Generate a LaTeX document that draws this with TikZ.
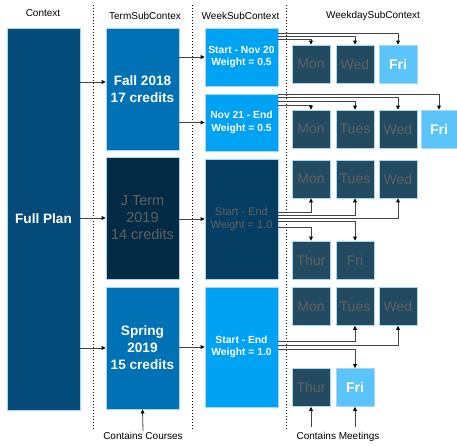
\documentclass[tikz,border=0pt]{standalone}
\usepackage{fontspec}
\setmainfont{Liberation Sans}
\usetikzlibrary{arrows.meta}
\definecolor{cplan}{HTML}{044B7A}
\definecolor{cterm}{HTML}{0071B4}
\definecolor{cjterm}{HTML}{032B45}
\definecolor{cweek}{HTML}{00A2F3}
\definecolor{cjweek}{HTML}{053E62}
\definecolor{cday}{HTML}{224B62}
\definecolor{cfri}{HTML}{5BC4FA}
\definecolor{cedge}{HTML}{A6D8F2}
\definecolor{cgray}{HTML}{606060}
\definecolor{cline}{HTML}{444444}
\begin{document}
\begin{tikzpicture}[x=1pt,y=-1pt,
  box/.style={rectangle, inner sep=0pt, align=center, line width=0.6pt, draw=cedge},
  bigw/.style={text=white, font=\fontsize{13.6}{17}\selectfont\bfseries},
  bigg/.style={text=cgray, font=\fontsize{14.5}{17}\selectfont},
  smw/.style={text=white, font=\fontsize{10.3}{12.5}\selectfont\bfseries},
  smg/.style={text=cgray, font=\fontsize{11}{12.7}\selectfont},
  termbox/.style={box, minimum width=73pt, minimum height=122pt},
  weekbox/.style={box, minimum width=73pt},
  daybox/.style={box, minimum width=38pt, minimum height=38pt, fill=cday, text=cgray, font=\fontsize{14}{16}\selectfont},
  dayon/.style={box, minimum width=38pt, minimum height=38pt, fill=cfri, text=white, font=\fontsize{14}{16}\selectfont\bfseries},
  hdr/.style={font=\fontsize{10}{12}\selectfont, inner sep=1pt},
  conn/.style={draw=cline, line width=0.8pt, -{Triangle[length=4pt,width=3.6pt,black]}},
  sep/.style={draw=black, line width=0.9pt, dash pattern=on 0.9pt off 2.1pt}]
\useasboundingbox (0,0) rectangle (457,446);

% headers
\node[hdr] (h1) at (43,13) {Context};
\node[hdr] (h2) at (145,15.5) {TermSubContex};
\node[hdr] (h3) at (240.5,15.5) {WeekSubContext};
\node[hdr] (h4) at (373,15.5) {WeekdaySubContext};

% separators
\draw[sep] (93,5) -- (93,430);
\draw[sep] (192,5) -- (192,430);
\draw[sep] (286,5) -- (286,430);

% context
\node[box, fill=cplan, minimum width=73pt, minimum height=382pt, bigw] (full) at (43.5,219) {Full Plan};

% terms
\node[termbox, fill=cterm, bigw] (fall) at (142.5,89) {Fall 2018\\17 credits};
\node[termbox, fill=cjterm, bigg] (jterm) at (142.5,218) {J Term\\2019\\14 credits};
\node[termbox, fill=cterm, bigw] (spring) at (142.5,348) {Spring\\2019\\15 credits};

% weeks
\node[weekbox, fill=cweek, minimum height=58pt, smw] (wk1) at (241.5,57) {Start - Nov 20\\Weight = 0.5};
\node[weekbox, fill=cweek, minimum height=57pt, smw] (wk2) at (241.5,122.5) {Nov 21 - End\\Weight = 0.5};
\node[weekbox, fill=cjweek, minimum height=120pt, smg] (wk3) at (241.5,219) {Start - End\\Weight = 1.0};
\node[weekbox, fill=cweek, minimum height=120pt, smw] (wk4) at (241.5,347) {Start - End\\Weight = 1.0};

% weekdays - fall part 1
\node[daybox] (amon) at (311,64) {Mon};
\node[daybox] (awed) at (355,64) {Wed};
\node[dayon] (afri) at (398,64) {Fri};
% fall part 2
\node[daybox] (bmon) at (311,129) {Mon};
\node[daybox] (btue) at (355,129) {Tues};
\node[daybox] (bwed) at (398,129) {Wed};
\node[dayon, minimum width=36pt] (bfri) at (439,129) {Fri};
% j term
\node[daybox] (cmon) at (311,179) {Mon};
\node[daybox] (ctue) at (355,179) {Tues};
\node[daybox] (cwed) at (398,179) {Wed};
\node[daybox] (cthu) at (311,260) {Thur};
\node[daybox] (cfri) at (355,260) {Fri};
% spring
\node[daybox] (dmon) at (311,306.5) {Mon};
\node[daybox] (dtue) at (355,306.5) {Tues};
\node[daybox] (dwed) at (398,306.5) {Wed};
\node[daybox] (dthu) at (311,387.5) {Thur};
\node[dayon] (dfri) at (355,387.5) {Fri};

% context -> terms
\coordinate (fallin) at ([yshift=7pt]fall.west);
\draw[conn] (full.east |- fallin) -- (fallin);
\draw[conn] (full.east |- jterm.west) -- (jterm.west);
\draw[conn] (full.east |- spring.west) -- (spring.west);

% terms -> weeks
\draw[conn] (fall.east |- wk1.west) -- (wk1.west);
\draw[conn] (fall.east |- wk2.west) -- (wk2.west);
\draw[conn] (jterm.east |- wk3.west) -- (wk3.west);
\draw[conn] (spring.east |- wk4.west) -- (wk4.west);

% week 1
\draw[conn] ([yshift=-6pt]wk1.north east) -| (afri.north);
\draw[conn] ([yshift=-8.5pt]wk1.north east) -| (awed.north);
\draw[conn] ([yshift=-12pt]wk1.north east) -| (amon.north);
% week 2
\draw[conn] ([yshift=-1pt]wk2.north east) -| (bfri.north);
\draw[conn] ([yshift=-4pt]wk2.north east) -| (bwed.north);
\draw[conn] ([yshift=-7.7pt]wk2.north east) -| (btue.north);
\draw[conn] ([yshift=-11.3pt]wk2.north east) -| (bmon.north);
% week 3
\draw[conn] ([yshift=6.7pt]wk3.east) -| (cmon.south);
\draw[conn] ([yshift=3.7pt]wk3.east) -| (ctue.south);
\draw[conn] ([yshift=0.7pt]wk3.east) -| (cwed.south);
\draw[conn] ([yshift=-2.7pt]wk3.east) -| (cfri.north);
\draw[conn] ([yshift=-8.3pt]wk3.east) -| (cthu.north);
% week 4
\draw[conn] ([yshift=5.3pt]wk4.east) -| (dtue.south);
\draw[conn] ([yshift=2pt]wk4.east) -| (dwed.south);
\draw[conn] ([yshift=-2.3pt]wk4.east) -| (dfri.north);

% bottom labels
\node[hdr] (courses) at (143,436) {Contains Courses};
\node[hdr] (meetings) at (338,437) {Contains Meetings};
\draw[conn] (courses.north) -- (spring.south);
\coordinate (mtop) at (338,427);
\draw[conn] (mtop -| dthu.south) -- (dthu.south);
\draw[conn] (mtop -| dfri.south) -- (dfri.south);
\end{tikzpicture}
\end{document}
